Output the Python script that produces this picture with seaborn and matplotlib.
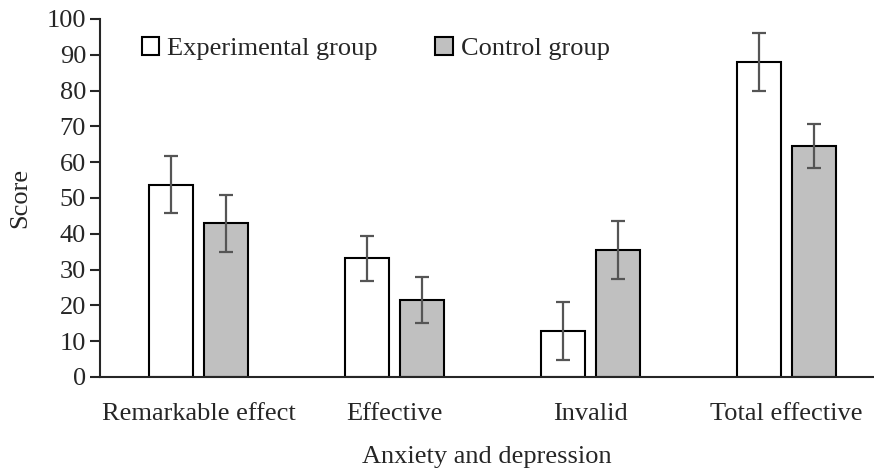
import seaborn as sns
import matplotlib.pyplot as plt
import pandas as pd
from matplotlib.patches import Patch

categories = ["Remarkable effect", "Effective", "Invalid", "Total effective"]
groups = ["Experimental group", "Control group"]
exp_scores = [53.7, 33.2, 12.8, 88.0]
ctrl_scores = [42.9, 21.5, 35.5, 64.5]
exp_err = [8.0, 6.3, 8.1, 8.2]
ctrl_err = [8.0, 6.3, 8.0, 6.2]

df = pd.DataFrame({
    "category": categories * 2,
    "group": [groups[0]] * 4 + [groups[1]] * 4,
    "score": exp_scores + ctrl_scores,
    "err": exp_err + ctrl_err,
})

sns.set_style("ticks")
plt.rcParams["font.family"] = ["Liberation Serif", "DejaVu Serif"]

fig = plt.figure(figsize=(8.74, 4.70), dpi=100)
ax = fig.add_axes([0.1144, 0.198, 0.8856, 0.7616])

colors = {groups[0]: "white", groups[1]: "#c0c0c0"}
sns.barplot(data=df, x="category", y="score", hue="group", hue_order=groups,
            palette=colors, order=categories, width=0.56, gap=0.2,
            errorbar=None, edgecolor="black", linewidth=1.5, saturation=1,
            legend=False, ax=ax)

# error bars at the bar centres
for cont, g in zip(ax.containers, groups):
    sub = df[df["group"] == g].set_index("category").loc[categories]
    xs = [p.get_x() + p.get_width() / 2 for p in cont.patches]
    ax.errorbar(xs, sub["score"], yerr=sub["err"], fmt="none",
                ecolor="#555555", elinewidth=1.6, capsize=5, capthick=1.6)

ax.set_ylim(0, 100)
ax.set_xlim(-0.503, 3.446)
ax.set_yticks(range(0, 101, 10))
ax.tick_params(axis="y", labelsize=19, length=7, width=1.5, direction="out", pad=3)
ax.tick_params(axis="x", labelsize=19, length=0, pad=19)
for s in ["left", "bottom"]:
    ax.spines[s].set_linewidth(1.5)
sns.despine(ax=ax)

ax.set_ylabel("Score", fontsize=19, labelpad=11)
ax.set_xlabel("Anxiety and depression", fontsize=19, labelpad=15)

handles = [Patch(facecolor=colors[g], edgecolor="black", linewidth=1.5) for g in groups]
ax.legend(handles, groups, ncol=2, loc="upper left", bbox_to_anchor=(0.023, 1.017),
          frameon=False, fontsize=19, handlelength=0.68, handleheight=0.68,
          handletextpad=0.3, columnspacing=2.15)

fig.savefig("out.png", dpi=100)
